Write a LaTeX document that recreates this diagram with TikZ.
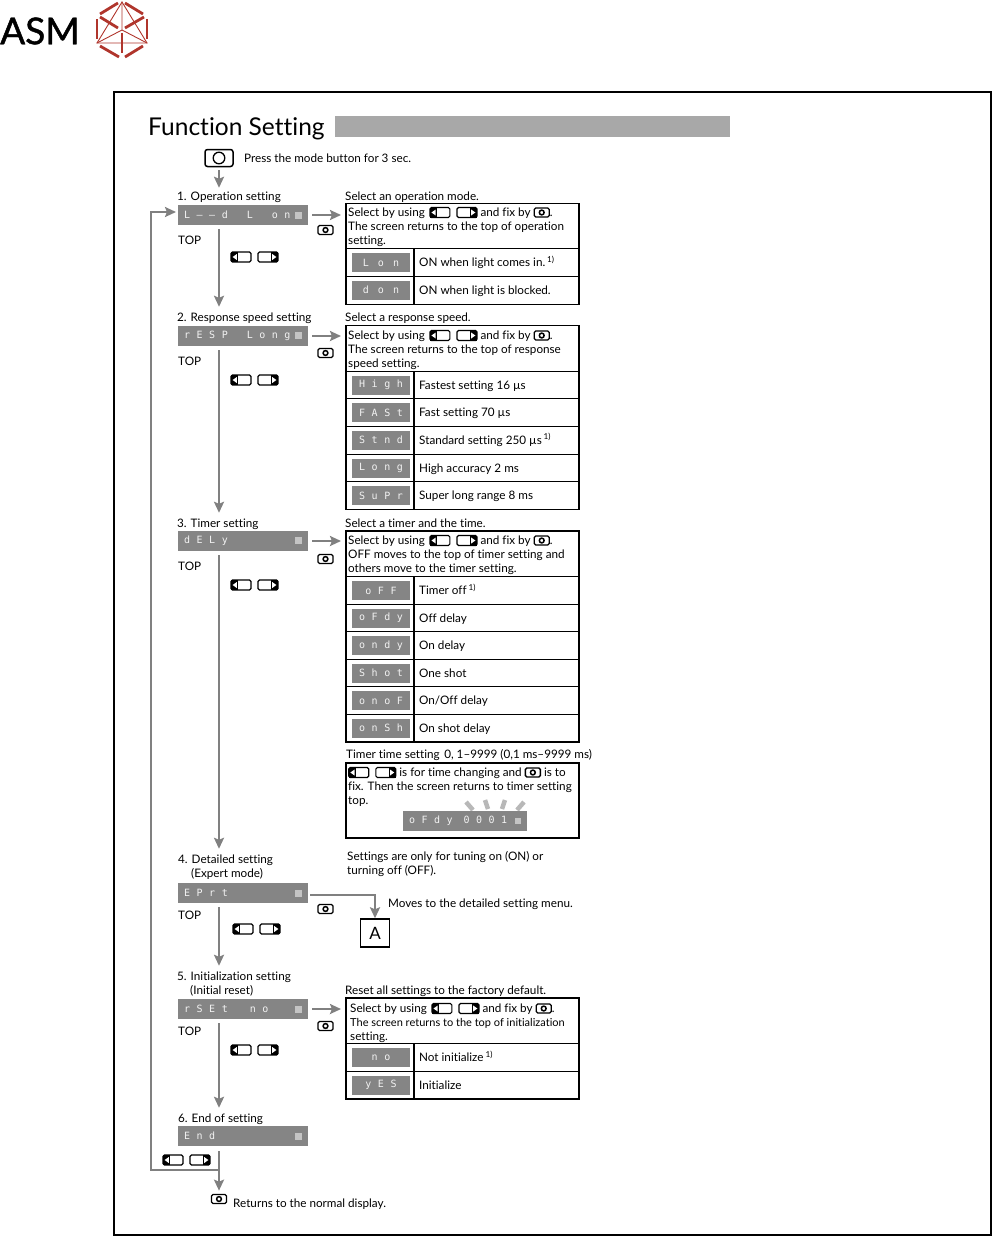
\documentclass[tikz,border=0pt]{standalone}
\usepackage{fontspec}
\usetikzlibrary{arrows.meta}
\setmainfont{Lato}[Ligatures=NoCommon]
\newfontfamily\logofont[FakeBold=1.2]{Lato}
\newfontfamily\lcdfont[LetterSpace=65,Ligatures=NoCommon]{DejaVu Sans Mono}
\definecolor{lcdgray}{HTML}{858585}
\definecolor{lcdtext}{HTML}{F2F2F2}
\definecolor{lcdmark}{HTML}{C4C4C4}
\definecolor{flowgray}{HTML}{808080}
\definecolor{bargray}{HTML}{A8A8A8}
\definecolor{raygray}{HTML}{B8B8B8}
\definecolor{logored}{HTML}{B0352C}
\newcommand{\leftkey}{\tikz[baseline=-3.5pt,x=1pt,y=1pt]{\draw[line width=1.1pt,rounded corners=1.5pt] (0,-5) rectangle (20,5); \fill (0,-5) rectangle (7,5); \fill[white] (1.6,0) -- (5.8,3) -- (5.8,-3) -- cycle;}}
\newcommand{\rightkey}{\tikz[baseline=-3.5pt,x=1pt,y=1pt]{\draw[line width=1.1pt,rounded corners=1.5pt] (0,-5) rectangle (20,5); \fill (13,-5) rectangle (20,5); \fill[white] (18.4,0) -- (14.2,3) -- (14.2,-3) -- cycle;}}
\newcommand{\modekey}{\tikz[baseline=-3.5pt,x=1pt,y=1pt]{\draw[line width=1.3pt,rounded corners=1.5pt] (-7.5,-4.5) rectangle (7.5,4.5); \draw[line width=1.5pt] (0,0) circle (2.4);}}
\newcommand{\bigmodekey}{\tikz[x=1pt,y=1pt]{\draw[line width=1.5pt,rounded corners=2.5pt] (-14,-8.5) rectangle (14,8.5); \draw[line width=1.3pt] (0,0) circle (5.8);}}
\newcommand{\lcdline}[1]{\makebox[118pt]{\lcdfont #1\hfill\textcolor{lcdmark}{\rule{7pt}{7pt}}}}
\newcommand{\lcdgap}{\hspace{9pt}}
\newcommand{\lcdsp}{\hspace{19pt}}
\newcommand{\foot}{\,\textsuperscript{1)}}
\newcommand{\selectline}{Select by using\hspace{1.5pt} \leftkey\hspace{6pt}\rightkey\ and fix by \modekey.}
\tikzset{
  txt/.style={anchor=west,inner sep=0pt,text height=11pt,text depth=3pt,font=\fontsize{11.7}{12}\selectfont},
  lcd/.style={anchor=west,fill=lcdgray,text=lcdtext,inner sep=0pt,minimum width=130pt,minimum height=20pt,font=\fontsize{10}{10}\selectfont},
  lcdsmall/.style={fill=lcdgray,text=lcdtext,inner sep=0pt,minimum width=58pt,minimum height=19pt,font=\fontsize{10}{10}\selectfont},
  tabbox/.style={draw,line width=1.4pt,anchor=north west,inner sep=0pt,outer sep=0pt,minimum width=233pt},
  rule/.style={line width=1.4pt},
  flow/.style={draw=flowgray,line width=2.8pt,-{Stealth[length=11pt,width=10pt,inset=2pt]}},
  icon/.style={inner sep=0pt},
  ray/.style={draw=raygray,line width=4.5pt},
  logothick/.style={draw=logored,line width=2.8pt},
  logothin/.style={draw=logored,line width=0.9pt}
}
\begin{document}
\begin{tikzpicture}[x=1pt,y=-1pt]

\path[use as bounding box] (0,0) rectangle (992,1236);

% Logo
\node[anchor=west,inner sep=0pt,font=\fontsize{37}{37}\logofont] (asm) at (0,31) {ASM};
\draw[logothick] (100,14) -- (118,3);
\draw[logothick] (125,3) -- (143,14);
\draw[logothick] (97,19) -- (97,39);
\draw[logothick] (147,19) -- (147,39);
\draw[logothick] (100,46) -- (119,57);
\draw[logothick] (125,57) -- (143,46);
\draw[logothick] (122,33) -- (122,53);
\draw[logothick] (100,17) -- (118,28);
\draw[logothick] (144,17) -- (125,28);
\draw[logothin] (122,2) -- (97,43) -- (147,43) -- cycle;
\draw[logothin] (122,2) -- (122,30) -- (97,43) (122,30) -- (147,43);

% Page frame and title
\draw[line width=2pt] (114,92) rectangle (990.5,1235);
\node[anchor=west,inner sep=0pt,font=\fontsize{24.5}{26}\selectfont] (title) at (148,129) {Function Setting};
\fill[bargray] (335,116) rectangle (730,137);

% Start
\node[icon] (start) at (219,158) {\bigmodekey};
\node[txt] (press) at (244,158) {Press the mode button for 3 sec.};
\coordinate (axis) at (219,0);

% Steps
\node[txt] (step1) at (177,196) {1. Operation setting};
\node[txt] (step2) at (177,317) {2. Response speed setting};
\node[txt] (step3) at (177,523) {3. Timer setting};
\node[txt] (step4) at (178,859) {4. Detailed setting};
\node[txt] (step4b) at (191,873) {(Expert mode)};
\node[txt] (step5) at (177,976) {5. Initialization setting};
\node[txt] (step5b) at (190,990) {(Initial reset)};
\node[txt] (step6) at (178,1118) {6. End of setting};

% Displays
\node[lcd] (disp1) at (178,215) {\lcdline{L––d\lcdsp L\lcdsp on}};
\node[lcd] (disp2) at (178,336) {\lcdline{rESP\lcdsp Long}};
\node[lcd] (disp3) at (178,541) {\lcdline{dELy}};
\node[lcd] (disp4) at (178,893) {\lcdline{EPrt}};
\node[lcd] (disp5) at (178,1009) {\lcdline{rSEt\hspace{22pt}no}};
\node[lcd] (disp6) at (178,1136) {\lcdline{End}};

% TOP labels
\foreach \i/\y in {1/240, 2/361, 3/566, 4/915, 5/1031} {
   \node[txt] (top\i) at (178,\y) {TOP};
}

% Up and down keys
\foreach \i/\x/\y in {1/241/257, 2/241/380, 3/241/585, 4/243/929, 5/241/1050, 6/173/1160} {
   \node[icon] (lkey\i) at (\x,\y) {\leftkey};
   \node[icon,xshift=27pt] (rkey\i) at (\x,\y) {\rightkey};
}

% Mode keys
\foreach \i/\y in {1/230, 2/353, 3/559, 4/909, 5/1026} {
   \node[icon] (mkey\i) at (325.5,\y) {\modekey};
}
\node[icon] (mkey6) at (219,1199) {\modekey};

% Tables
\node[tabbox,minimum height=101pt] (tab1) at (346,203.5) {};
\node[tabbox,minimum height=184pt] (tab2) at (346,325.5) {};
\node[tabbox,minimum height=211pt] (tab3) at (346,531) {};
\node[tabbox,minimum height=75pt] (tab4) at (346,763) {};
\node[tabbox,minimum height=101pt] (tab5) at (346,998) {};

% Operation
\node[txt] (head1) at (345,196) {Select an operation mode.};
\node[txt] (t1a) at (348,212) {\selectline};
\node[txt] (t1b) at (348,226) {The screen returns to the top of operation};
\node[txt] (t1c) at (348,240) {setting.};
\foreach \lab/\txt/\y [count=\r] in {{L\lcdgap o\lcdgap n}/{ON when light comes in.\foot}/262.5,
                                     {d\lcdgap o\lcdgap n}/{ON when light is blocked.}/290} {
   \node[lcdsmall] (a\r) at (381,\y) {\lcdfont \lab};
   \node[txt] (atxt\r) at (419,\y) {\txt};
   \draw[rule] (346,\y-13.8) -- (579,\y-13.8);
   \draw[rule] (414,\y-13.8) -- (414,\y+13.8);
}

% Response speed
\node[txt] (head2) at (345,317) {Select a response speed.};
\node[txt] (t2a) at (348,335) {\selectline};
\node[txt] (t2b) at (348,349) {The screen returns to the top of response};
\node[txt] (t2c) at (348,363) {speed setting.};
\foreach \lab/\txt/\y [count=\r] in {High/{Fastest setting 16 µs}/385,
                                     FASt/{Fast setting 70 µs}/412.5,
                                     Stnd/{Standard setting 250 µs\foot}/440,
                                     Long/{High accuracy 2 ms}/468,
                                     SuPr/{Super long range 8 ms}/495.5} {
   \node[lcdsmall] (b\r) at (381,\y) {\lcdfont \lab};
   \node[txt] (btxt\r) at (419,\y) {\txt};
   \draw[rule] (346,\y-13.8) -- (579,\y-13.8);
   \draw[rule] (414,\y-13.8) -- (414,\y+13.8);
}

% Timer
\node[txt] (head3) at (345,523) {Select a timer and the time.};
\node[txt] (t3a) at (348,540) {\selectline};
\node[txt] (t3b) at (348,554) {OFF moves to the top of timer setting and};
\node[txt] (t3c) at (348,568) {others move to the timer setting.};
\foreach \lab/\txt/\y [count=\r] in {oFF/{Timer off\foot}/590.5,
                                     oFdy/{Off delay}/618,
                                     ondy/{On delay}/645.5,
                                     Shot/{One shot}/673,
                                     onoF/{On/Off delay}/700.5,
                                     onSh/{On shot delay}/728} {
   \node[lcdsmall] (c\r) at (381,\y) {\lcdfont \lab};
   \node[txt] (ctxt\r) at (419,\y) {\txt};
   \draw[rule] (346,\y-13.8) -- (579,\y-13.8);
   \draw[rule] (414,\y-13.8) -- (414,\y+13.8);
}

% Timer time
\node[txt] (head4) at (346,754) {Timer time setting\hspace{4.5pt}0, 1–9999 (0,1 ms–9999 ms)};
\node[txt] (t4a) at (348,772) {\leftkey\hspace{6pt}\rightkey\ is for time changing and \modekey\ is to};
\node[txt] (t4b) at (348,786) {fix. Then the screen returns to timer setting};
\node[txt] (t4c) at (348,800) {top.};
\draw[ray] (466,802) -- (473,810);
\draw[ray] (485,800) -- (488,809);
\draw[ray] (505,800) -- (502,809);
\draw[ray] (524,802) -- (517,810);
\node[anchor=center,fill=lcdgray,text=lcdtext,inner sep=0pt,minimum width=124pt,minimum height=20pt,font=\fontsize{10}{10}\selectfont] (disp7) at (465,821) {\makebox[112pt]{\lcdfont oFdy\hspace{11pt}0001\hfill\textcolor{lcdmark}{\rule{6pt}{6pt}}}};

% Expert mode
\node[txt] (t5a) at (347,856) {Settings are only for tuning on (ON) or};
\node[txt] (t5b) at (347,870) {turning off (OFF).};
\node[txt] (t5c) at (388,903) {Moves to the detailed setting menu.};
\node[draw,line width=1.4pt,inner sep=0pt,minimum width=29pt,minimum height=28pt,font=\fontsize{17}{17}\selectfont] (boxa) at (375,933) {A};

% Reset
\node[txt] (head5) at (345,990) {Reset all settings to the factory default.};
\node[txt] (t6a) at (350,1008) {\selectline};
\node[txt,font=\fontsize{11}{12}\selectfont] (t6b) at (350,1022) {The screen returns to the top of initialization};
\node[txt] (t6c) at (350,1036) {setting.};
\foreach \lab/\txt/\y [count=\r] in {no/{Not initialize\foot}/1057.5,
                                     yES/{Initialize}/1085} {
   \node[lcdsmall] (d\r) at (381,\y) {\lcdfont \lab};
   \node[txt] (dtxt\r) at (419,\y) {\txt};
   \draw[rule] (346,\y-13.8) -- (579,\y-13.8);
   \draw[rule] (414,\y-13.8) -- (414,\y+13.8);
}

% End
\node[txt] (t7) at (233,1203) {Returns to the normal display.};

% Connectors
\draw[flow,shorten <=3pt,shorten >=1pt] (start.south) -- (axis |- step1.north);
\foreach \i/\j in {1/2,2/3,3/4,4/5,5/6} {
   \draw[flow,shorten <=4pt,shorten >=3pt] (axis |- disp\i.south) -- (axis |- step\j.north);
}
\foreach \i/\j in {1/1,2/2,3/3,5/5} {
   \draw[flow,shorten <=4pt,shorten >=5pt] (disp\i.east) -- (disp\i.east -| tab\j.west);
}
\draw[flow,shorten <=2pt] ([yshift=-2pt]disp4.east) -| (boxa.north);
\draw[flow,shorten <=5pt,shorten >=3pt] (axis |- disp6.south) -- (axis |- mkey6.north);
\coordinate (backa) at (219,1170);
\coordinate (backb) at (151,1170);
\coordinate (backc) at (176,212);
\draw[flow] (backa) -- (backb) |- (backc);

\end{tikzpicture}
\end{document}
